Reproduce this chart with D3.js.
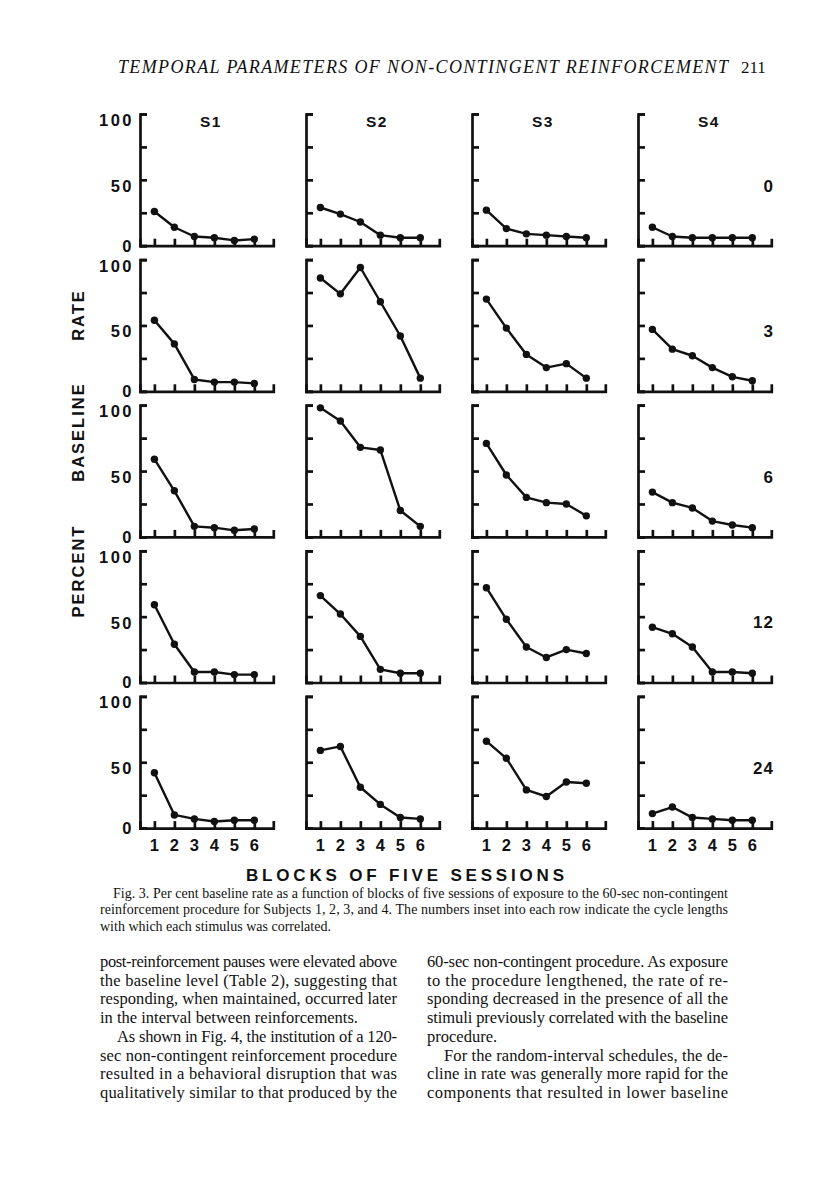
<!DOCTYPE html>
<html>
<head>
<meta charset="utf-8">
<script src="https://cdn.jsdelivr.net/npm/d3@7"></script>
<style>
  body { margin: 0; background: #fff; }
  svg { display: block; }
</style>
</head>
<body>
<svg id="page"></svg>
<script>
// ─── DATA (percent of baseline rate) ───
const subjects = ['S1', 'S2', 'S3', 'S4'];
const cycleLengths = ['0', '3', '6', '12', '24'];
const blocks = [1, 2, 3, 4, 5, 6];
const yTickValues = [0, 25, 50, 75, 100];
const yTickLabels = [0, 50, 100];

// one row per cycle length (0, 3, 6, 12, 24), six blocks each
const s1Rates = [
  [26, 14, 7, 6, 4, 5],
  [54, 36, 9, 7, 7, 6],
  [59, 35, 8, 7, 5, 6],
  [59, 29, 8, 8, 6, 6],
  [42, 10, 7, 5, 6, 6]
];
const s2Rates = [
  [29, 24, 18, 8, 6, 6],
  [86, 74, 94, 68, 42, 10],
  [98, 88, 68, 66, 20, 8],
  [66, 52, 35, 10, 7, 7],
  [59, 62, 31, 18, 8, 7]
];
const s3Rates = [
  [27, 13, 9, 8, 7, 6],
  [70, 48, 28, 18, 21, 10],
  [71, 47, 30, 26, 25, 16],
  [72, 48, 27, 19, 25, 22],
  [66, 53, 29, 24, 35, 34]
];
const s4Rates = [
  [14, 7, 6, 6, 6, 6],
  [47, 32, 27, 18, 11, 8],
  [34, 26, 22, 12, 9, 7],
  [42, 37, 27, 8, 8, 7],
  [11, 16, 8, 7, 6, 6]
];
const ratesBySubject = [s1Rates, s2Rates, s3Rates, s4Rates];

const headerText = 'TEMPORAL PARAMETERS OF NON-CONTINGENT REINFORCEMENT';
const pageNumber = '211';
const captionLines = [
  'Fig. 3. Per cent baseline rate as a function of blocks of five sessions of exposure to the 60-sec non-contingent',
  'reinforcement procedure for Subjects 1, 2, 3, and 4. The numbers inset into each row indicate the cycle lengths',
  'with which each stimulus was correlated.'
];
const leftColumn = [
  'post-reinforcement pauses were elevated above',
  'the baseline level (Table 2), suggesting that',
  'responding, when maintained, occurred later',
  'in the interval between reinforcements.',
  'As shown in Fig. 4, the institution of a 120-',
  'sec non-contingent reinforcement procedure',
  'resulted in a behavioral disruption that was',
  'qualitatively similar to that produced by the'
];
const rightColumn = [
  '60-sec non-contingent procedure. As exposure',
  'to the procedure lengthened, the rate of re-',
  'sponding decreased in the presence of all the',
  'stimuli previously correlated with the baseline',
  'procedure.',
  'For the random-interval schedules, the de-',
  'cline in rate was generally more rapid for the',
  'components that resulted in lower baseline'
];

// ─── LAYOUT ───
const W = 816, H = 1193;
const PLOT_LEFT = 140, COL_STEP = 166, PLOT_W = 133.3;
const PLOT_TOP = 114, ROW_STEP = 145.6, PLOT_H = 131.7;
const LABEL_FONT = '"Liberation Sans", Arial, sans-serif';
const TEXT_FONT = '"Liberation Serif", "Times New Roman", serif';
const INK = '#111';

const svg = d3.select('#page').attr('width', W).attr('height', H);
svg.append('rect').attr('width', W).attr('height', H).attr('fill', '#fff');

const x = d3.scaleLinear().domain([0.28, 6.95]).range([0, PLOT_W]);
const y = d3.scaleLinear().domain([0, 100]).range([PLOT_H, 0]);
const line = d3.line().x((d, i) => x(blocks[i])).y(d => y(d));

const boldLabel = (sel, size, spacing) => sel
  .attr('font-family', LABEL_FONT)
  .attr('font-weight', 'bold')
  .attr('font-size', size)
  .attr('letter-spacing', spacing)
  .attr('fill', INK);

// ─── PANELS ───
ratesBySubject.forEach((rows, c) => {
  rows.forEach((vals, r) => {
    const g = svg.append('g')
      .attr('transform', `translate(${PLOT_LEFT + c * COL_STEP},${PLOT_TOP + r * ROW_STEP})`);

    const yAxis = g.append('g')
      .call(d3.axisRight(y).tickValues(yTickValues).tickSize(7).tickSizeOuter(7).tickFormat(''));
    const xAxis = g.append('g').attr('transform', `translate(0,${PLOT_H})`)
      .call(d3.axisTop(x).tickValues(blocks).tickSize(7).tickSizeOuter(7).tickFormat(''));
    [yAxis, xAxis].forEach(a => {
      a.selectAll('path, line').attr('stroke', INK).attr('stroke-width', 2.7);
      a.select('.domain').attr('stroke-linejoin', 'miter').attr('fill', 'none');
    });

    g.append('path').datum(vals)
      .attr('d', line)
      .attr('fill', 'none')
      .attr('stroke', INK)
      .attr('stroke-width', 2.4)
      .attr('stroke-linejoin', 'round');

    g.selectAll('circle').data(vals).join('circle')
      .attr('cx', (d, i) => x(blocks[i]))
      .attr('cy', d => y(d))
      .attr('r', 3.7)
      .attr('fill', INK);

    // y tick labels on the left-hand column only
    if (c === 0) {
      g.selectAll('text.ylab').data(yTickLabels).join('text')
        .attr('class', 'ylab')
        .attr('x', -6)
        .attr('y', d => y(d) + (d === 0 ? 6 : 12))
        .attr('text-anchor', 'end')
        .call(boldLabel, 16.5, 2.5)
        .text(d => d);
    }

    // subject names across the top row
    if (r === 0) {
      g.append('text')
        .attr('x', 71).attr('y', 13)
        .attr('text-anchor', 'middle')
        .call(boldLabel, 15.5, 1.5)
        .text(subjects[c]);
    }

    // cycle lengths inset at the right of each row
    if (c === subjects.length - 1) {
      g.append('text')
        .attr('x', 136).attr('y', y(46) + 6.5)
        .attr('text-anchor', 'end')
        .call(boldLabel, 17, 1)
        .text(cycleLengths[r]);
    }

    // block numbers under the bottom row
    if (r === cycleLengths.length - 1) {
      g.selectAll('text.xlab').data(blocks).join('text')
        .attr('class', 'xlab')
        .attr('x', d => x(d))
        .attr('y', PLOT_H + 23)
        .attr('text-anchor', 'middle')
        .call(boldLabel, 16.5, 0)
        .text(d => d);
    }
  });
});

// ─── AXIS TITLES ───
const yTitle = [['RATE', 315], ['BASELINE', 432], ['PERCENT', 571]];
yTitle.forEach(([word, cy]) => {
  svg.append('text')
    .attr('transform', `translate(84,${cy}) rotate(-90)`)
    .attr('text-anchor', 'middle')
    .call(boldLabel, 16.5, 2)
    .text(word);
});

svg.append('text')
  .attr('x', 246).attr('y', 880.5)
  .attr('textLength', 318).attr('lengthAdjust', 'spacing')
  .call(boldLabel, 17, 0)
  .text('BLOCKS OF FIVE SESSIONS');

// ─── PAGE TEXT ───
svg.append('text')
  .attr('x', 118).attr('y', 73)
  .attr('textLength', 610).attr('lengthAdjust', 'spacing')
  .attr('font-family', TEXT_FONT).attr('font-style', 'italic')
  .attr('font-size', 18).attr('fill', INK)
  .text(headerText);
svg.append('text')
  .attr('x', 741).attr('y', 73)
  .attr('font-family', TEXT_FONT)
  .attr('font-size', 17).attr('fill', INK)
  .text(pageNumber);

const addLines = (lines, opts) => {
  lines.forEach((t, i) => {
    const indent = opts.indents.includes(i) ? opts.indent : 0;
    const el = svg.append('text')
      .attr('x', opts.x + indent)
      .attr('y', opts.y0 + i * opts.step)
      .attr('font-family', TEXT_FONT)
      .attr('font-size', opts.size)
      .attr('fill', INK)
      .text(t);
    if (!opts.ragged.includes(i)) el.attr('textLength', opts.width - indent).attr('lengthAdjust', 'spacing');
  });
};

addLines(captionLines, { x: 100, y0: 897.5, step: 16.5, width: 628, size: 14, indents: [0], indent: 13, ragged: [2] });
addLines(leftColumn, { x: 100, y0: 967, step: 18.7, width: 297, size: 16.5, indents: [4], indent: 17, ragged: [3] });
addLines(rightColumn, { x: 427, y0: 967, step: 18.7, width: 301, size: 16.5, indents: [5], indent: 17, ragged: [4] });
</script>
</body>
</html>
